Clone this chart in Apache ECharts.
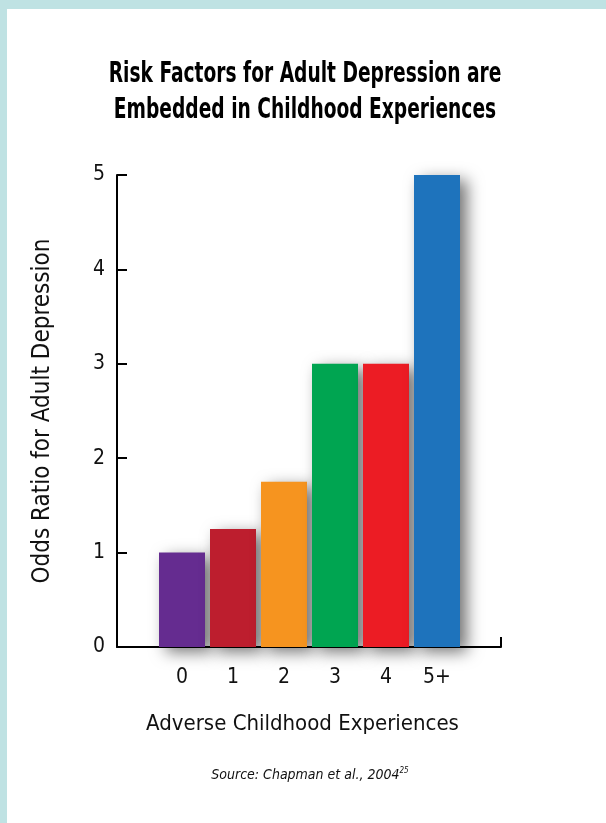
<!DOCTYPE html>
<html>
<head>
<meta charset="utf-8">
<script src="https://cdn.jsdelivr.net/npm/echarts@6/dist/echarts.min.js"></script>
<style>
html,body{margin:0;padding:0;background:#bfe2e3;}
#chart{width:606px;height:823px;}
</style>
</head>
<body>
<div id="chart"></div>
<script>
const categories = ['0', '1', '2', '3', '4', '5+'];
const oddsRatios = [1, 1.25, 1.75, 3, 3, 5];
const barColors = ['#652c90', '#bd1e2e', '#f6941f', '#00a551', '#ec1c24', '#1e73bc'];
const yMin = 0, yMax = 5, yStep = 1;
const titleText = 'Risk Factors for Adult Depression are\nEmbedded in Childhood Experiences';
const yTitle = 'Odds Ratio for Adult Depression';
const xTitle = 'Adverse Childhood Experiences';
const sourceText = 'Source: Chapman et al., 2004';
const sourceRef = '25';

const FONT = "'DejaVu Sans Condensed', 'Liberation Sans Narrow', 'Noto Sans', sans-serif";
const chart = echarts.init(document.getElementById('chart'), null, {renderer: 'canvas'});

chart.setOption({
  backgroundColor: '#bfe2e3',
  animation: false,
  graphic: [
    {type: 'rect', z: -10, silent: true, shape: {x: 7, y: 9, width: 606, height: 823}, style: {fill: '#ffffff'}},
    {
      type: 'text', x: 305, y: 93, scaleX: 0.74, z: 10,
      style: {
        text: titleText,
        x: 0, y: 0,
        align: 'center', verticalAlign: 'middle',
        fontFamily: FONT, fontWeight: 'bold', fontSize: 28, lineHeight: 36, fill: '#000'
      }
    },
    {
      type: 'text', x: 310, y: 775, z: 10,
      style: {
        text: '{s|' + sourceText + '}{r|' + sourceRef + '}',
        x: 0, y: 0,
        align: 'center', verticalAlign: 'middle',
        rich: {
          s: {fontFamily: FONT, fontStyle: 'italic', fontSize: 14, fill: '#111'},
          r: {fontFamily: FONT, fontStyle: 'italic', fontSize: 8, fill: '#111', verticalAlign: 'top', padding: [0, 0, 8, 0]}
        }
      }
    }
  ],
  grid: [
    {left: 117, top: 175, width: 384, height: 472},
    {left: 156.5, top: 175, width: 306, height: 472}
  ],
  xAxis: [
    {
      type: 'value', gridIndex: 0, min: 0, max: 1, interval: 1,
      axisLine: {show: true, lineStyle: {color: '#000', width: 2}},
      axisTick: {show: true, inside: true, length: 10, lineStyle: {color: '#000', width: 2}},
      axisLabel: {show: false},
      splitLine: {show: false}
    },
    {
      type: 'category', gridIndex: 1, data: categories,
      axisLine: {show: false},
      axisTick: {show: false},
      axisLabel: {margin: 20, fontFamily: FONT, fontSize: 21, color: '#111'},
      name: xTitle,
      nameLocation: 'middle',
      nameGap: 66,
      nameTextStyle: {fontFamily: FONT, fontSize: 22, color: '#111', padding: [0, 14, 0, 0]}
    }
  ],
  yAxis: [
    {
      type: 'value', gridIndex: 0, min: yMin, max: yMax, interval: yStep,
      axisLine: {show: true, lineStyle: {color: '#000', width: 2}},
      axisTick: {show: true, inside: true, length: 10, lineStyle: {color: '#000', width: 2}},
      axisLabel: {margin: 12, fontFamily: FONT, fontSize: 21, color: '#111'},
      splitLine: {show: false},
      name: yTitle,
      nameLocation: 'middle',
      nameGap: 62,
      nameTextStyle: {fontFamily: FONT, fontSize: 24, color: '#111'}
    },
    {
      type: 'value', gridIndex: 1, min: yMin, max: yMax, show: false
    }
  ],
  series: [{
    type: 'bar',
    xAxisIndex: 1,
    yAxisIndex: 1,
    barWidth: 46,
    z: 1,
    data: oddsRatios.map((v, i) => ({
      value: v,
      itemStyle: {
        color: barColors[i],
        shadowBlur: 16,
        shadowColor: 'rgba(0,0,0,0.55)',
        shadowOffsetX: 7,
        shadowOffsetY: 5
      }
    }))
  }]
});
</script>
</body>
</html>
